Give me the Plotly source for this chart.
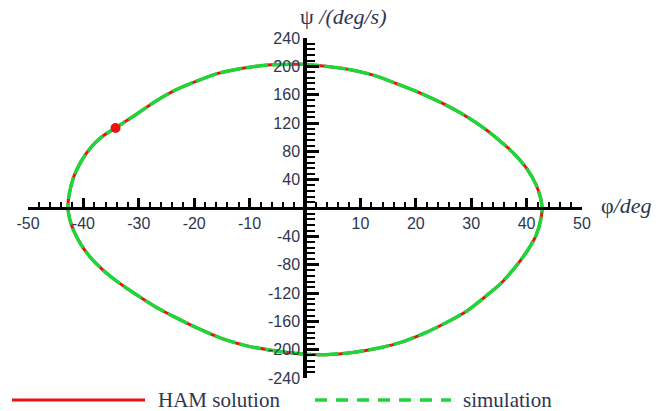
import plotly.graph_objects as go

# Phase-plane trajectory (phi in deg, psi in deg/s)
phi = [0, 7.7, 12.2, 16.4, 20.3, 24.5, 28.1, 31.7, 34.7, 37.7, 40.0, 41.7, 42.5, 42.8,
       42.6, 41.7, 40.0, 37.8, 35.3, 32.4, 29.3, 25.7, 21.8, 17.6, 13.1, 8.6, 3.8, 0,
       -5.5, -10.3, -15.1, -19.3, -23.5, -27.1, -30.7, -33.7, -36.4, -38.6, -40.4, -41.7,
       -42.5, -42.8, -42.5, -41.7, -40.4, -38.7, -36.6, -33.8, -30.7, -27.1, -23.5, -19.9,
       -15.7, -11.5, -6.7, -1.9, 0]
psi = [203, 196, 188, 176, 164, 149, 134, 116, 98, 77, 56, 33, 15, 0,
       -15, -39, -62, -85, -107, -126, -145, -161, -176, -189, -198, -204, -207, -206.5,
       -201.5, -195, -184, -170, -154, -139, -121, -105, -88, -71, -52, -33,
       -15, 2, 22, 45, 66, 85, 101, 115, 131, 150, 166, 178,
       190, 197, 202, 203, 203]

start_phi = [-34.2]
start_psi = [113]

x_ticks = [-50, -40, -30, -20, -10, 0, 10, 20, 30, 40, 50]
x_ticktext = ["-50", "-40", "-30", "-20", "-10", "", "10", "20", "30", "40", "50"]
y_ticks = [-240, -200, -160, -120, -80, -40, 0, 40, 80, 120, 160, 200, 240]
y_ticktext = ["-240", "-200", "-160", "-120", "-80", "-40", "", "40", "80", "120", "160", "200", "240"]

RED = "#ee1111"
GREEN = "#1fd63a"
LABEL = "#2d3651"

fig = go.Figure()
fig.add_trace(go.Scatter(x=phi, y=psi, mode="lines", name="HAM solution",
                         line=dict(color=RED, width=3, shape="spline", smoothing=0.6),
                         showlegend=False))
fig.add_trace(go.Scatter(x=phi, y=psi, mode="lines", name="simulation",
                         line=dict(color=GREEN, width=3.5, dash="22px,4px", shape="spline", smoothing=0.6),
                         showlegend=False))
fig.add_trace(go.Scatter(x=start_phi, y=start_psi, mode="markers",
                         marker=dict(color=RED, size=10), showlegend=False))

L, R, T, B = 28, 78, 38, 33
W, H = 660, 411
pw, ph = W - L - R, H - T - B

def px(xpix):
    return (xpix - L) / pw

def py(ypix):
    return (H - B - ypix) / ph

fig.update_layout(
    width=W, height=H,
    margin=dict(l=L, r=R, t=T, b=B),
    paper_bgcolor="white", plot_bgcolor="white",
    xaxis=dict(range=[-50, 50], anchor="free", position=0.5, side="bottom",
               showgrid=False, zeroline=False, showline=True, linecolor="black", linewidth=3,
               tickmode="array", tickvals=x_ticks, ticktext=x_ticktext,
               ticks="inside", ticklen=9, tickwidth=3, tickcolor="black",
               minor=dict(ticks="inside", ticklen=5, tickwidth=1.5, tickcolor="black",
                          tickmode="linear", tick0=0, dtick=2),
               tickfont=dict(family="Liberation Sans, Arial", size=16, color=LABEL)),
    yaxis=dict(range=[-240, 240], anchor="free", position=0.5, side="left",
               showgrid=False, zeroline=False, showline=True, linecolor="black", linewidth=3.5,
               tickmode="array", tickvals=y_ticks, ticktext=y_ticktext,
               ticks="inside", ticklen=12, tickwidth=3, tickcolor="black",
               minor=dict(ticks="inside", ticklen=8, tickwidth=1.5, tickcolor="black",
                          tickmode="linear", tick0=0, dtick=8),
               tickfont=dict(family="Liberation Sans, Arial", size=16, color=LABEL)),
)

serif = "Liberation Serif, Times New Roman, serif"
fig.add_annotation(text="ψ <i>/(deg/s)</i>", xref="paper", yref="paper",
                   x=px(343), y=py(16), xanchor="center", yanchor="middle", showarrow=False,
                   font=dict(family=serif, size=22, color=LABEL))
fig.add_annotation(text="φ<i>/deg</i>", xref="paper", yref="paper",
                   x=px(599), y=py(205), xanchor="left", yanchor="middle", showarrow=False,
                   font=dict(family=serif, size=22, color=LABEL))

# Legend drawn below the plot
ly = py(400)
fig.add_shape(type="line", xref="paper", yref="paper", x0=px(12), x1=px(145), y0=ly, y1=ly,
              line=dict(color=RED, width=3))
fig.add_annotation(text="HAM solution", xref="paper", yref="paper", x=px(156), y=ly,
                   xanchor="left", yanchor="middle", showarrow=False,
                   font=dict(family=serif, size=21, color=LABEL))
fig.add_shape(type="line", xref="paper", yref="paper", x0=px(315), x1=px(451), y0=ly, y1=ly,
              line=dict(color=GREEN, width=3.5, dash="12px,9px"))
fig.add_annotation(text="simulation", xref="paper", yref="paper", x=px(461), y=ly,
                   xanchor="left", yanchor="middle", showarrow=False,
                   font=dict(family=serif, size=21, color=LABEL))

fig.write_html("out.html")
